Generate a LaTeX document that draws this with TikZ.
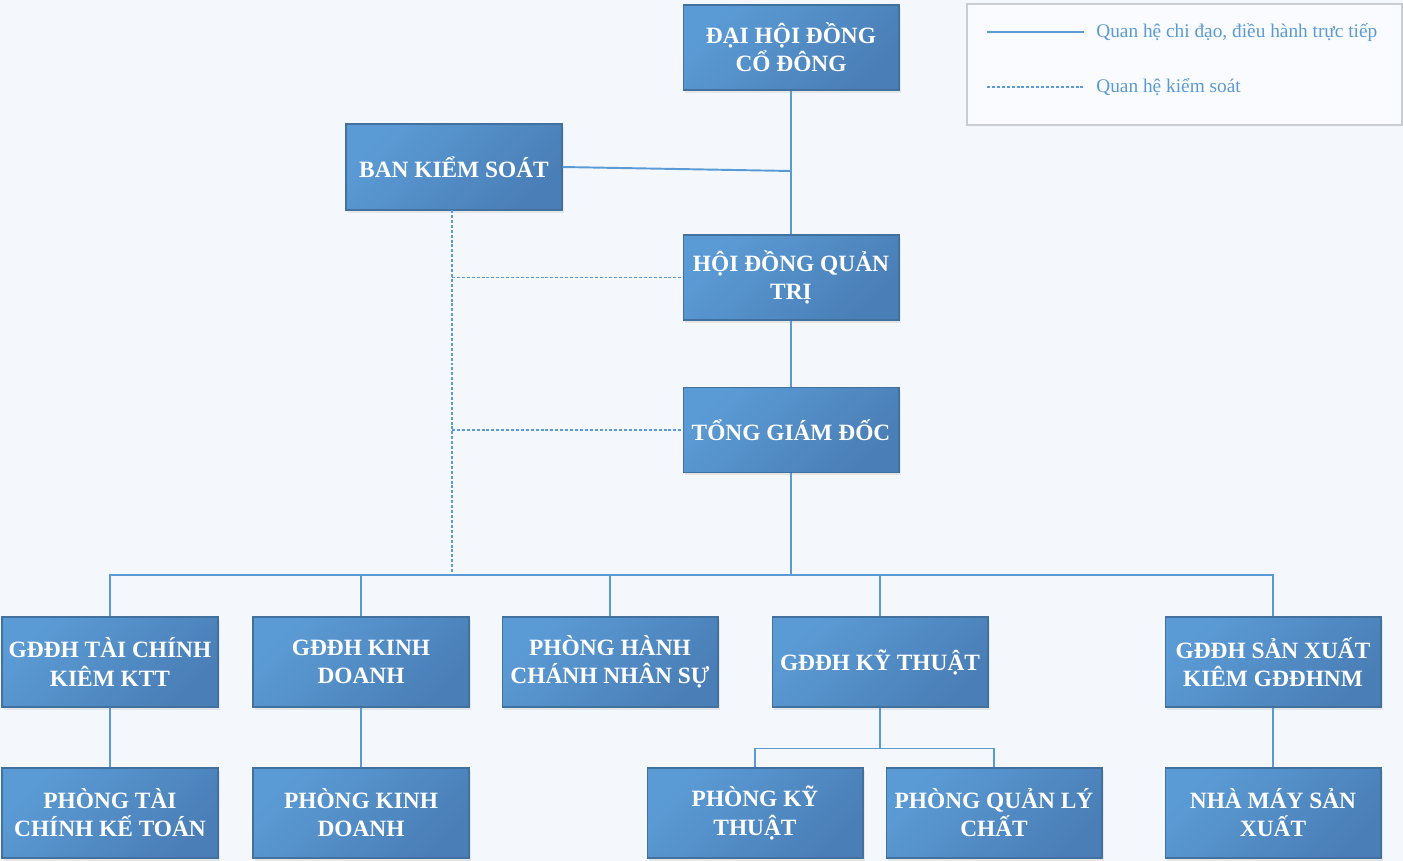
\documentclass[tikz,border=0pt]{standalone}
\usepackage{fontspec}
\setmainfont{Liberation Serif}
\usetikzlibrary{calc,shadows}
\definecolor{page}{HTML}{F4F8FC}
\definecolor{boxlight}{HTML}{5B9BD5}
\definecolor{boxdark}{HTML}{4A7EB6}
\definecolor{boxedge}{HTML}{41719C}
\definecolor{wire}{HTML}{5B9BD5}
\definecolor{legedge}{HTML}{C9CCD0}

\begin{document}
\begin{tikzpicture}[x=0.02cm,y=-0.02cm,
  post/.style={draw=boxedge,line width=0.6pt,top color=boxlight,bottom color=boxdark,shading angle=45,
    minimum width=4.32cm,minimum height=1.8cm,inner sep=0pt,align=center,text=white,
    font=\fontsize{13.3}{16}\selectfont\bfseries,
    drop shadow={shadow xshift=0.4mm,shadow yshift=-0.6mm,opacity=0.15}},
  link/.style={wire,line width=1.1pt},
  ctrl/.style={wire,line width=1.1pt,dash pattern=on 1.7pt off 1.1pt},
  legtext/.style={anchor=west,inner sep=0pt,text=wire,font=\fontsize{11}{13}\selectfont}]
  \fill[page] (0,0) rectangle (1403,861);
  \useasboundingbox (0,0) rectangle (1403,861);

  % Legend
  \draw[legedge,line width=1.2pt,fill=white!50!page] (967,4) rectangle (1402,125);
  \draw[link] (987,32) -- (1084,32);
  \node[legtext] (lgsolid) at (1096,33) {Quan hệ chi đạo, điều hành trực tiếp};
  \draw[ctrl] (987,87) -- (1084,87);
  \node[legtext] (lgdot) at (1096,87) {Quan hệ kiểm soát};

  % Top of the chart
  \node[post,minimum height=1.7cm] (dhdcd) at (791,47.5) {ĐẠI HỘI ĐỒNG\\CỔ ĐÔNG};
  \node[post,minimum height=1.72cm] (bks) at (454,167) {BAN KIỂM SOÁT};
  \node[post,minimum height=1.7cm] (hdqt) at (791,277.5) {HỘI ĐỒNG QUẢN\\TRỊ};
  \node[post,minimum height=1.7cm] (tgd) at (791,430) {TỔNG GIÁM ĐỐC};

  % First row
  \node[post] (gdtc) at (110,662) {GĐĐH TÀI CHÍNH\\KIÊM KTT};
  \node[post] (gdkd) at (361,662) {GĐĐH KINH\\DOANH};
  \node[post] (phcns) at (610,662) {PHÒNG HÀNH\\CHÁNH NHÂN SỰ};
  \node[post] (gdkt) at (880,662) {GĐĐH KỸ THUẬT};
  \node[post] (gdsx) at (1273,662) {GĐĐH SẢN XUẤT\\KIÊM GĐĐHNM};

  % Second row
  \node[post] (ptckt) at (110,813) {PHÒNG TÀI\\CHÍNH KẾ TOÁN};
  \node[post] (pkd) at (361,813) {PHÒNG KINH\\DOANH};
  \node[post] (pkt) at (755,813) {PHÒNG KỸ\\THUẬT};
  \node[post] (pqlc) at (994,813) {PHÒNG QUẢN LÝ\\CHẤT};
  \node[post] (nmsx) at (1273,813) {NHÀ MÁY SẢN\\XUẤT};

  % Direct lines
  \coordinate (jn) at (791,171);
  \coordinate (bus) at (791,575);
  \draw[link] (dhdcd.south) -- (hdqt.north);
  \draw[link] (bks.east) -- (jn);
  \draw[link] (hdqt.south) -- (tgd.north);
  \draw[link] (tgd.south) -- (bus);
  \foreach \n in {gdtc,gdkd,phcns,gdkt,gdsx}
    \draw[link] (bus) -| (\n.north);
  \draw[link] (gdtc.south) -- (ptckt.north);
  \draw[link] (gdkd.south) -- (pkd.north);
  \draw[link] (gdsx.south) -- (nmsx.north);
  \foreach \n in {pkt,pqlc}
    \draw[link] (gdkt.south) -- ++(0,41) -| (\n.north);

  % Control lines
  \coordinate (ks) at (452,210);
  \draw[ctrl] (ks) -- (ks |- bus);
  \draw[ctrl] (ks |- hdqt.west) -- (hdqt.west);
  \draw[ctrl] (ks |- tgd.west) -- (tgd.west);
\end{tikzpicture}
\end{document}
